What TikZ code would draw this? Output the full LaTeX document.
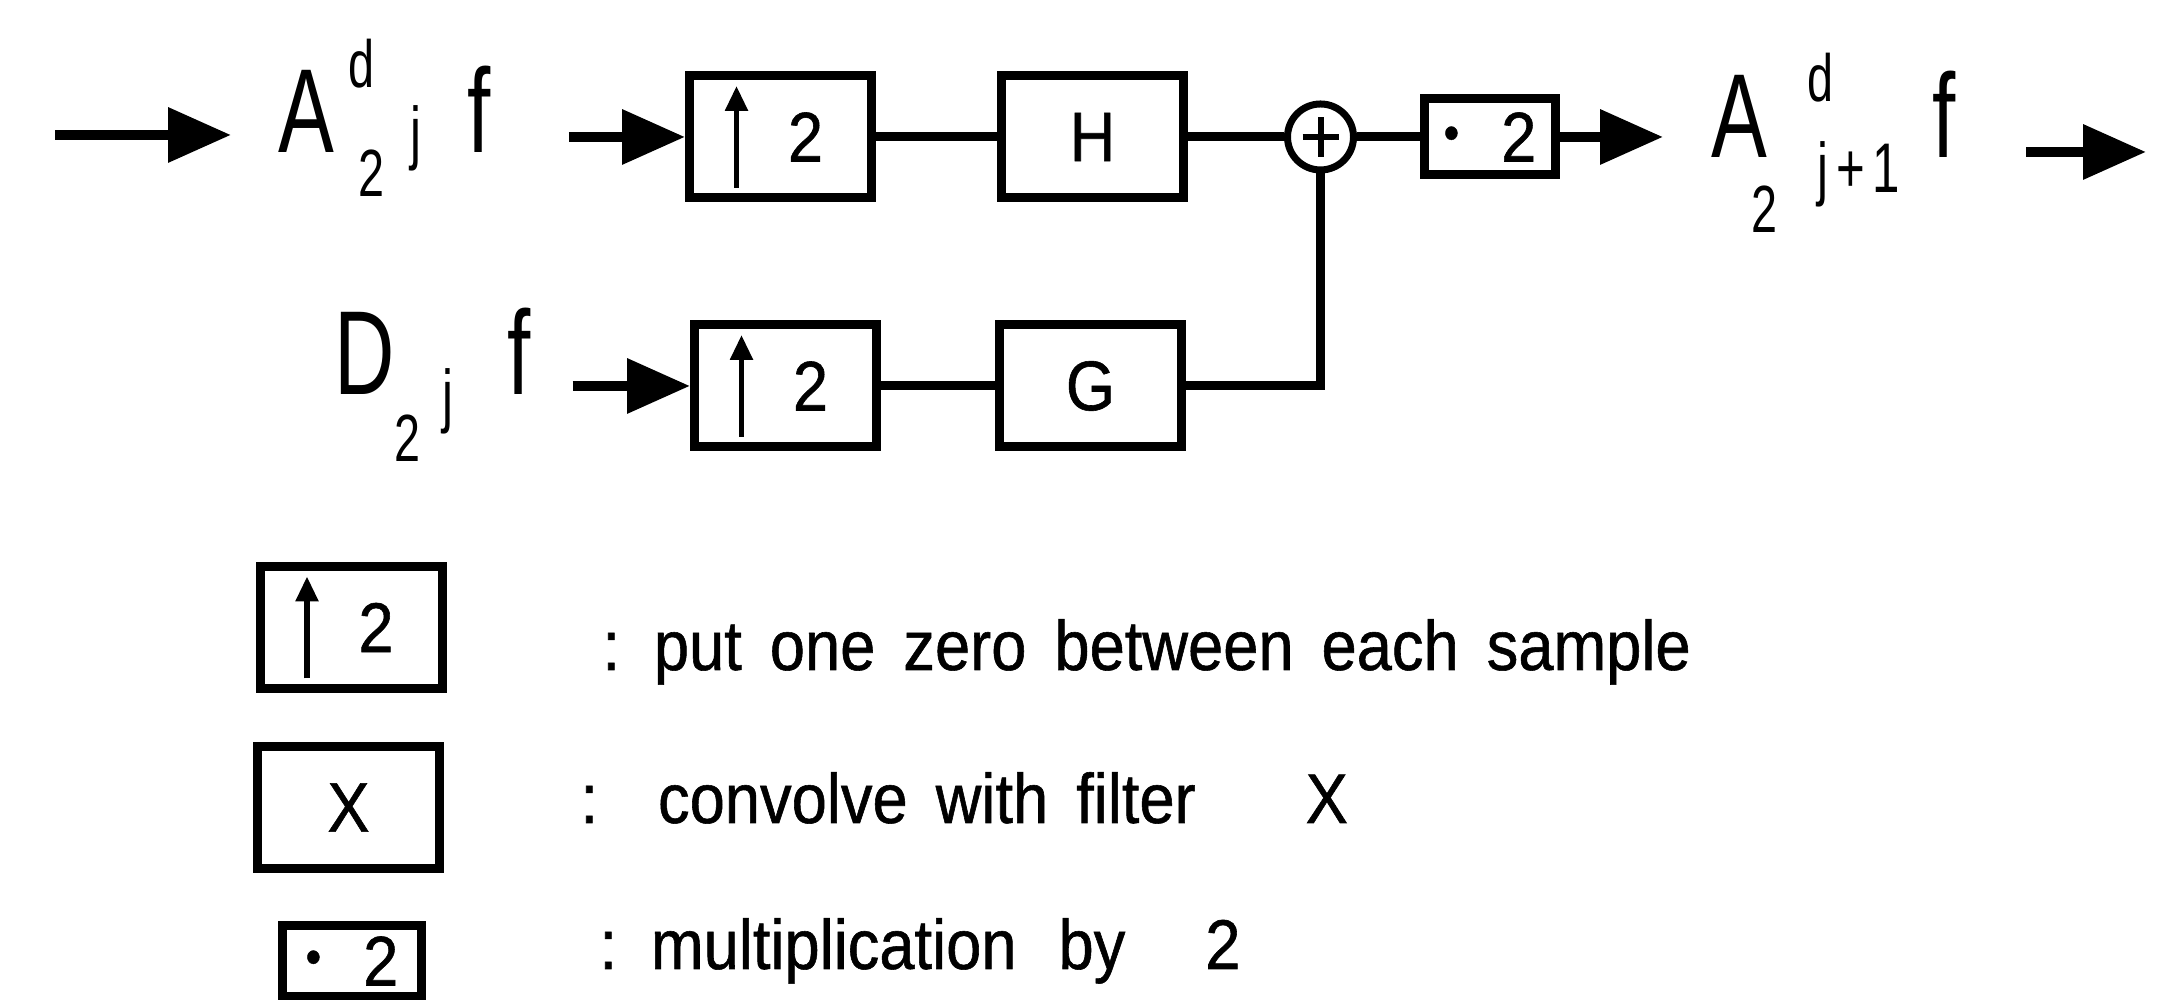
\documentclass[tikz,border=0pt]{standalone}
\usepackage{fontspec}
\setmainfont{Liberation Sans}[FakeStretch=0.9,FakeBold=0.8]
\newfontfamily\labfont{Liberation Sans}[FakeStretch=0.7]
\usetikzlibrary{positioning,arrows.meta}

\newcommand{\supsize}{\fontsize{19}{19}\selectfont}
\newcommand{\jsize}{\fontsize{20}{20}\selectfont}

\begin{document}
\begin{tikzpicture}[
    line width=0.09cm,
    box/.style={draw,inner sep=0,minimum width=1.82cm,minimum height=1.22cm,font=\fontsize{20}{24}\selectfont},
    mulbox/.style={box,minimum width=1.31cm,minimum height=0.76cm},
    lab/.style={anchor=base west,inner sep=0,font=\labfont\fontsize{34}{40}\selectfont},
    note/.style={anchor=base west,inner sep=0,font=\fontsize{20}{24}\selectfont,
      execute at begin node={\spaceskip=0.28cm\relax}},
    sig/.style={line width=0.1cm,-{Triangle[length=6.3mm,width=5.3mm]}}
  ]
    \useasboundingbox (0,0) rectangle (21.62,10);

    % top row
    \node[box] (up1) at (7.805,8.63) {\hspace*{0.5cm}2};
    \node[box,right=1.21cm of up1] (hbox) {H};
    \node[draw,circle,minimum size=0.66cm,line width=0.07cm,right=0.96cm of hbox] (sum) {};
    \node[mulbox,right=0.63cm of sum] (mul) {\raisebox{0.12cm}{\scalebox{0.7}{\textbullet}}\hspace{0.42cm}2};
    \node[lab] (ain) at (2.74,8.47) {A\rlap{\hspace{0.14cm}\raisebox{0.65cm}{\supsize d}}\hspace{0.24cm}\raisebox{-0.44cm}{\supsize 2\hspace{0.26cm}\raisebox{0.40cm}{\jsize j}}\hspace{0.46cm}f};
    \node[lab] (aout) at (17.07,8.42) {A\rlap{\hspace{-0.16cm}\raisebox{-0.75cm}{\supsize 2\hspace{0.40cm}\raisebox{0.40cm}{\jsize j\hspace{0.08cm}+\hspace{0.08cm}1}}}\rlap{\hspace{0.40cm}\raisebox{0.56cm}{\supsize d}}\hspace{1.65cm}f};
    \coordinate (in) at (0.55,8.65);
    \coordinate (out) at (21.46,8.48);

    % bottom row
    \node[box] (up2) at (7.855,6.14) {\hspace*{0.5cm}2};
    \node[box,right=1.14cm of up2] (gbox) {G};
    \node[lab] (dlab) at (3.30,6.05) {D\raisebox{-0.67cm}{\supsize 2\hspace{0.22cm}\raisebox{0.42cm}{\jsize j}}\hspace{0.54cm}f};

    % legend
    \node[box] (leg1) at (3.51,3.725) {\hspace*{0.5cm}2};
    \node[box] (leg2) at (3.485,1.925) {X};
    \node[mulbox,minimum width=1.39cm,minimum height=0.71cm] (leg3) at (3.52,0.39) {\raisebox{0.12cm}{\scalebox{0.7}{\textbullet}}\hspace{0.42cm}2};
    \node[note] (txt1) at (5.98,3.30) {: put one zero between each sample};
    \node[note] (txt2) at (5.76,1.77) {:\hspace{0.6cm}convolve with filter\hspace{1.1cm}X};
    \node[note] (txt3) at (5.95,0.31) {: multiplication\hspace{0.42cm}by\hspace{0.8cm}2};

    % arrows inside the upsampling boxes
    \foreach \b in {up1,up2,leg1}
      \draw[line width=0.055cm,-{Triangle[length=2.5mm,width=2.2mm]}] ([xshift=-4.4mm,yshift=-5.1mm]\b.center) -- ([xshift=-4.4mm,yshift=5.1mm]\b.center);
    \draw[line width=0.06cm] ([xshift=-1.8mm]sum.center) -- ([xshift=1.8mm]sum.center)
      ([yshift=-2mm]sum.center) -- ([yshift=2mm]sum.center);

    % connections
    \draw[sig,shorten >=4.3mm] (in) -- (in -| ain.west);
    \draw[sig,shorten <=7.4mm] (up1.west -| ain.east) -- (up1.west);
    \draw (up1) -- (hbox);
    \draw (hbox) -- (sum);
    \draw (sum) -- (mul);
    \draw[sig,shorten >=4.4mm] (mul) -- (mul -| aout.west);
    \draw[sig,shorten <=6.6mm] (out -| aout.east) -- (out);
    \draw[sig,shorten <=3.7mm] (up2.west -| dlab.east) -- (up2.west);
    \draw (up2) -- (gbox);
    \draw (gbox.east) -| (sum.south);
  \end{tikzpicture}
\end{document}
